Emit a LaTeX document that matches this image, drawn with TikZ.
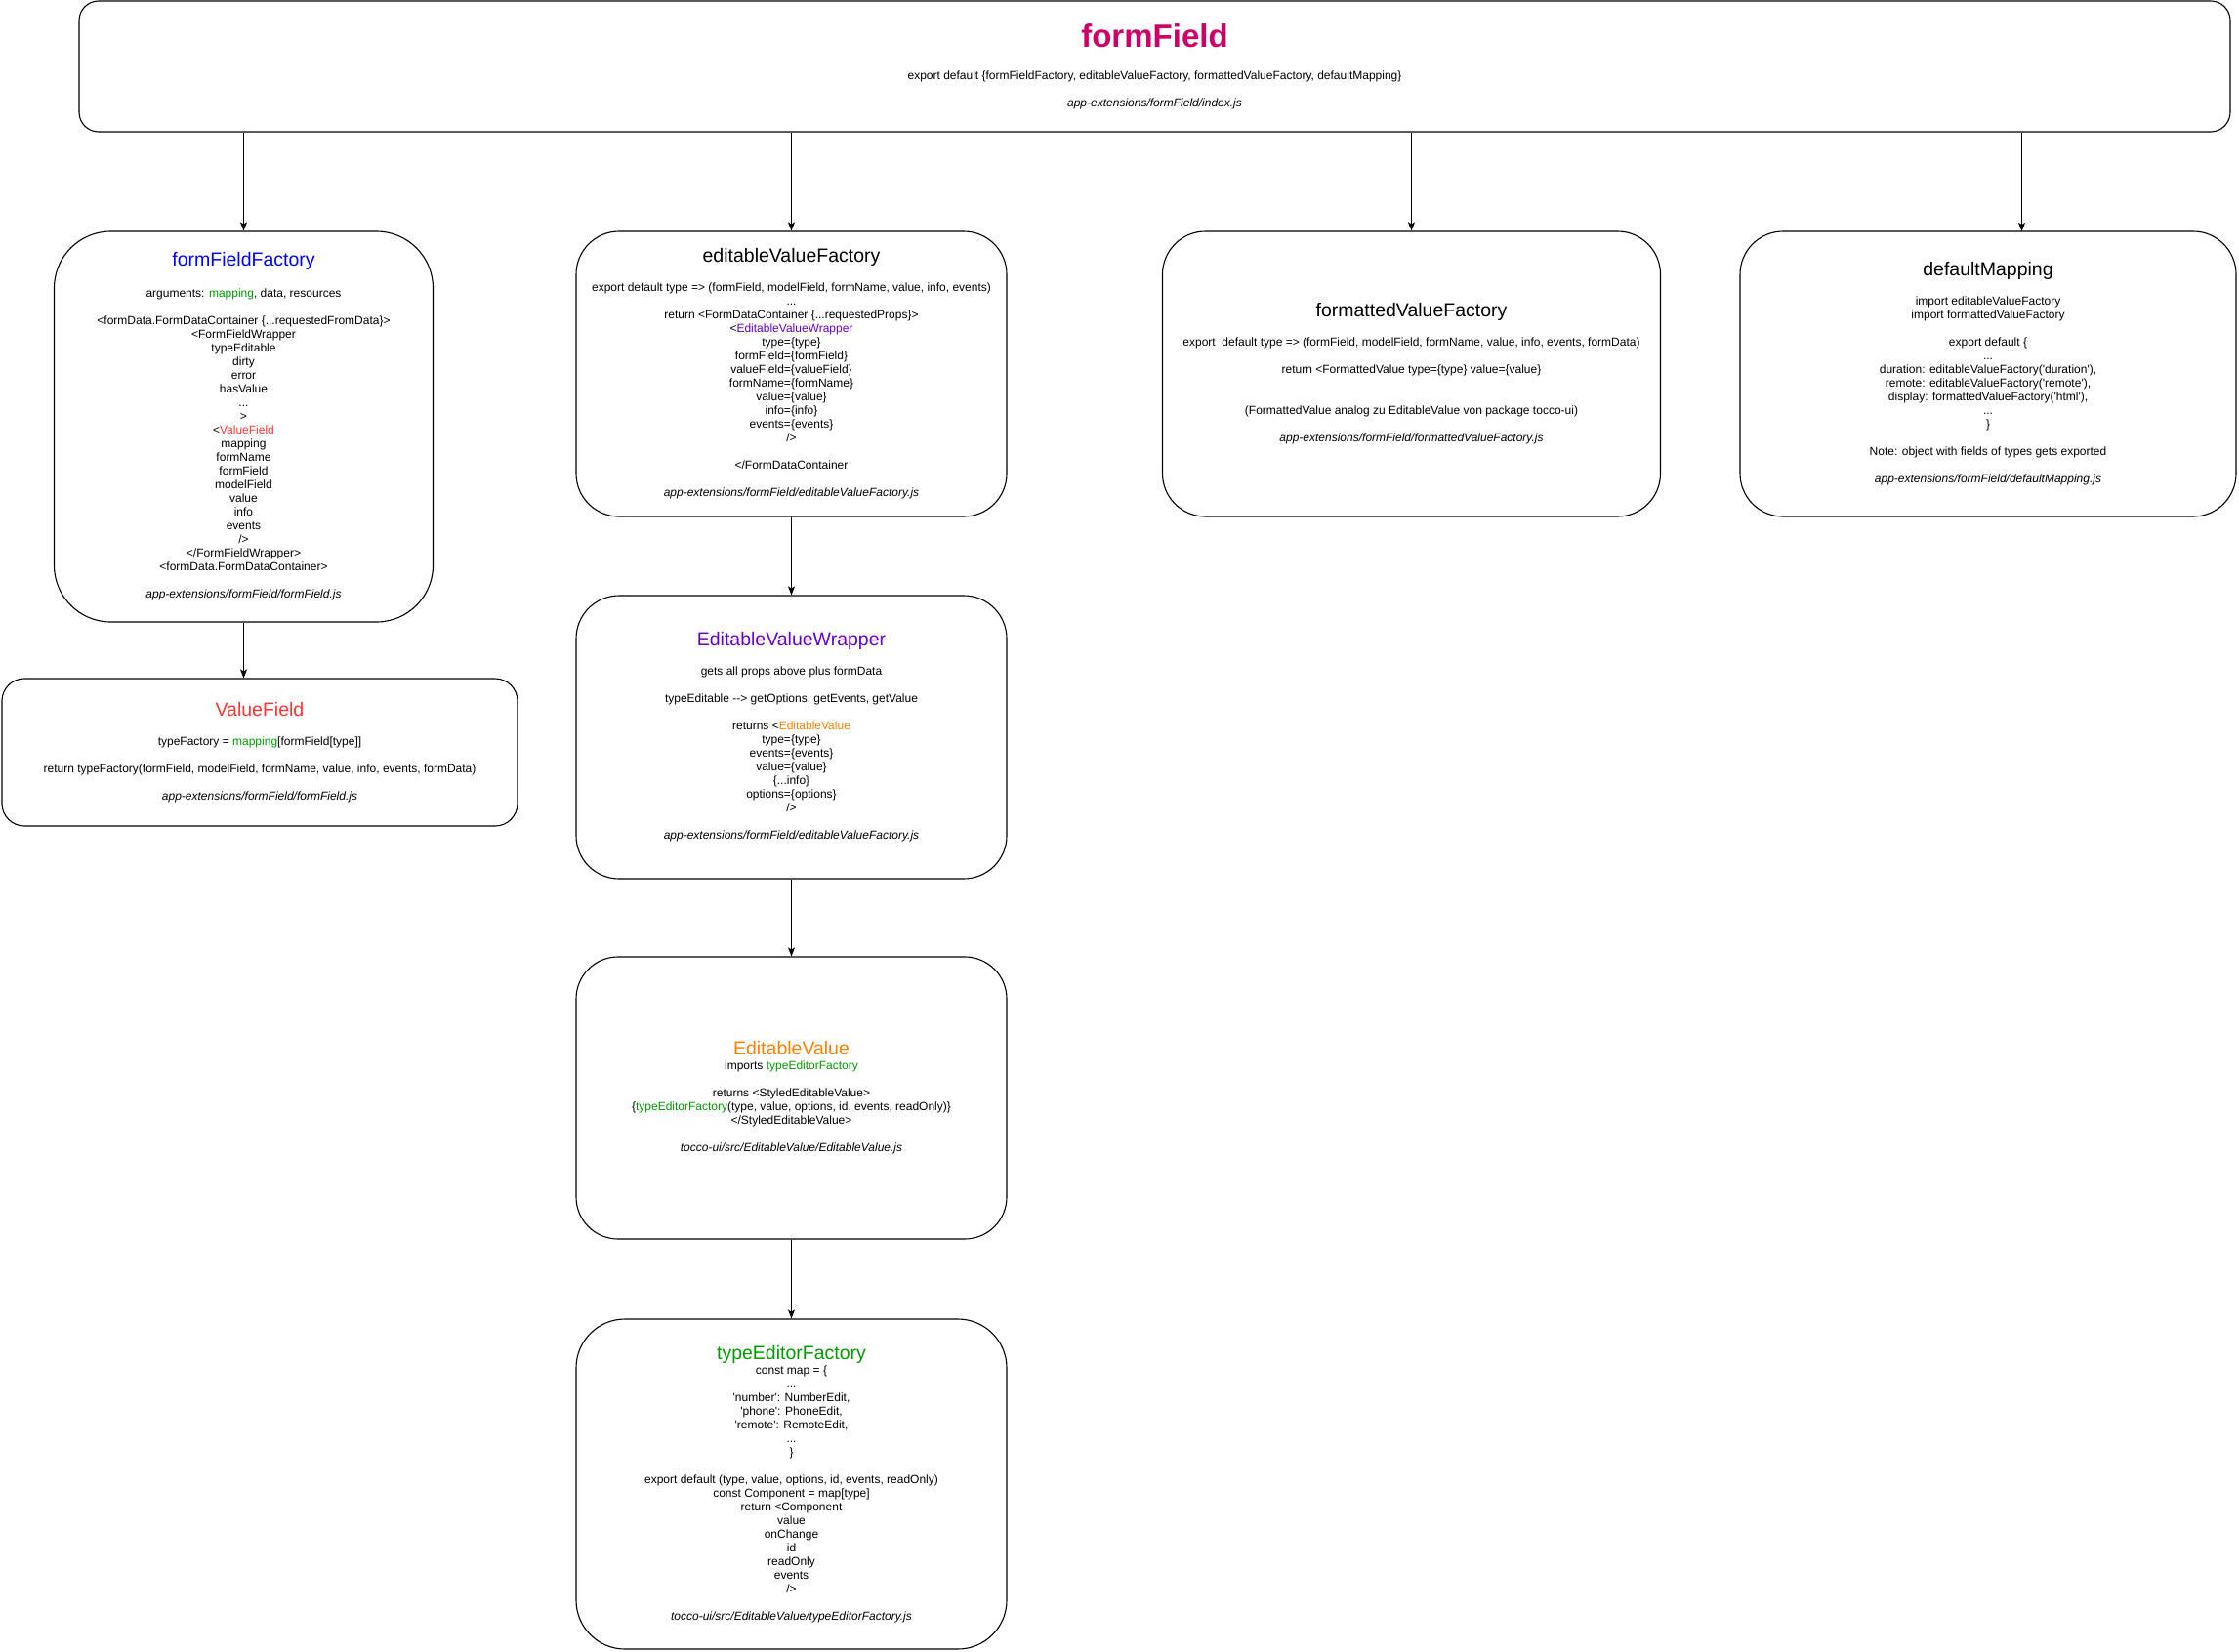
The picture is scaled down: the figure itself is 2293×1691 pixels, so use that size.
\documentclass[tikz,border=0pt]{standalone}
\usepackage{fontspec}
\newfontfamily\drawfont{Liberation Sans}
\definecolor{ffmagenta}{RGB}{204, 0, 102}
\definecolor{ffblue}{RGB}{0, 0, 255}
\definecolor{mapgreen}{RGB}{0, 153, 0}
\definecolor{vfred}{RGB}{255, 51, 51}
\definecolor{wrappurple}{RGB}{102, 0, 204}
\definecolor{evorange}{RGB}{255, 128, 0}
\usetikzlibrary{arrows.meta, positioning}
\newcommand{\boxtitle}[2]{{\fontsize{19.5}{23}\selectfont\textcolor{#1}{#2}}}
\newcommand{\srcpath}[1]{{\itshape #1}}

\begin{document}
\begin{tikzpicture}[x=1pt, y=-1pt,
  box/.style={draw, line width=1.1pt, align=center, inner sep=0pt,
    font=\drawfont\fontsize{12}{14}\selectfont},
  arr/.style={line width=1.1pt, -{Stealth[length=9pt, width=7pt, inset=2pt]}}]
  \useasboundingbox (0,0) rectangle (2293,1691);

  % Module
  \node[box, minimum width=2203pt, minimum height=134pt, rounded corners=20pt] (top) at (1182.5,68)
    {{\fontsize{33}{38}\selectfont\bfseries\textcolor{ffmagenta}{formField}}\\[19pt]
     export default \{formFieldFactory, editableValueFactory, formattedValueFactory, defaultMapping\}\\[14pt]
     \srcpath{app-extensions/formField/index.js}};

  % Exports
  \node[box, minimum width=388pt, minimum height=400pt, rounded corners=58pt] (ffact) at (249.5,437)
    {\boxtitle{ffblue}{formFieldFactory}\\[18pt]
     arguments: \textcolor{mapgreen}{mapping}, data, resources\\[14pt]
     <formData.FormDataContainer \{...requestedFromData\}>\\
     <FormFieldWrapper\\
     typeEditable\\
     dirty\\
     error\\
     hasValue\\
     ...\\
     >\\
     <\textcolor{vfred}{ValueField}\\
     mapping\\
     formName\\
     formField\\
     modelField\\
     value\\
     info\\
     events\\
     />\\
     </FormFieldWrapper>\\
     <formData.FormDataContainer>\\[14pt]
     \srcpath{app-extensions/formField/formField.js}};

  \node[box, minimum width=441pt, minimum height=292pt, rounded corners=44pt] (evf) at (810.5,383)
    {\boxtitle{black}{editableValueFactory}\\[16pt]
     export default type => (formField, modelField, formName, value, info, events)\\
     ...\\
     return <FormDataContainer \{...requestedProps\}>\\
     <\textcolor{wrappurple}{EditableValueWrapper}\\
     type=\{type\}\\
     formField=\{formField\}\\
     valueField=\{valueField\}\\
     formName=\{formName\}\\
     value=\{value\}\\
     info=\{info\}\\
     events=\{events\}\\
     />\\[14pt]
     </FormDataContainer\\[14pt]
     \srcpath{app-extensions/formField/editableValueFactory.js}};

  \node[box, minimum width=510pt, minimum height=292pt, rounded corners=44pt] (fvf) at (1445.5,383)
    {\boxtitle{black}{formattedValueFactory}\\[16pt]
     export\ \ default type => (formField, modelField, formName, value, info, events, formData)\\[14pt]
     return <FormattedValue type=\{type\} value=\{value\}\\[28pt]
     (FormattedValue analog zu EditableValue von package tocco-ui)\\[14pt]
     \srcpath{app-extensions/formField/formattedValueFactory.js}};

  \node[box, minimum width=508pt, minimum height=292pt, rounded corners=44pt] (dmap) at (2036,383)
    {\boxtitle{black}{defaultMapping}\\[16pt]
     import editableValueFactory\\
     import formattedValueFactory\\[14pt]
     export default \{\\
     ...\\
     duration: editableValueFactory('duration'),\\
     remote: editableValueFactory('remote'),\\
     display: formattedValueFactory('html'),\\
     ...\\
     \}\\[14pt]
     Note: object with fields of types gets exported\\[14pt]
     \srcpath{app-extensions/formField/defaultMapping.js}};

  % Second level
  \node[box, minimum width=528pt, minimum height=151pt, rounded corners=23pt] (vfield) at (266,770.5)
    {\boxtitle{vfred}{ValueField}\\[16pt]
     typeFactory = \textcolor{mapgreen}{mapping}[formField[type]]\\[14pt]
     return typeFactory(formField, modelField, formName, value, info, events, formData)\\[14pt]
     \srcpath{app-extensions/formField/formField.js}};

  \node[box, minimum width=441pt, minimum height=290pt, rounded corners=44pt] (evw) at (810.5,755)
    {\boxtitle{wrappurple}{EditableValueWrapper}\\[16pt]
     gets all props above plus formData\\[14pt]
     typeEditable --> getOptions, getEvents, getValue\\[14pt]
     returns <\textcolor{evorange}{EditableValue}\\
     type=\{type\}\\
     events=\{events\}\\
     value=\{value\}\\
     \{...info\}\\
     options=\{options\}\\
     />\\[14pt]
     \srcpath{app-extensions/formField/editableValueFactory.js}};

  \node[box, minimum width=441pt, minimum height=289pt, rounded corners=43pt] (ev) at (810.5,1124.5)
    {\boxtitle{evorange}{EditableValue}\\[1pt]
     imports \textcolor{mapgreen}{typeEditorFactory}\\[14pt]
     returns <StyledEditableValue>\\
     \{\textcolor{mapgreen}{typeEditorFactory}(type, value, options, id, events, readOnly)\}\\
     </StyledEditableValue>\\[14pt]
     \srcpath{tocco-ui/src/EditableValue/EditableValue.js}};

  \node[box, minimum width=441pt, minimum height=338pt, rounded corners=50pt] (tef) at (810.5,1520)
    {\boxtitle{mapgreen}{typeEditorFactory}\\[1pt]
     const map = \{\\
     ...\\
     'number': NumberEdit,\\
     'phone': PhoneEdit,\\
     'remote': RemoteEdit,\\
     ...\\
     \}\\[14pt]
     export default (type, value, options, id, events, readOnly)\\
     const Component = map[type]\\
     return <Component\\
     value\\
     onChange\\
     id\\
     readOnly\\
     events\\
     />\\[14pt]
     \srcpath{tocco-ui/src/EditableValue/typeEditorFactory.js}};

  % Arrows
  \coordinate (dmin) at (2070.5,237);
  \draw[arr] (top.south -| ffact.north) -- (ffact.north);
  \draw[arr] (top.south -| evf.north) -- (evf.north);
  \draw[arr] (top.south -| fvf.north) -- (fvf.north);
  \draw[arr] (top.south -| dmin) -- (dmin);
  \draw[arr] (ffact.south) -- (ffact.south |- vfield.north);
  \draw[arr] (evf) -- (evw);
  \draw[arr] (evw) -- (ev);
  \draw[arr] (ev) -- (tef);
\end{tikzpicture}
\end{document}
